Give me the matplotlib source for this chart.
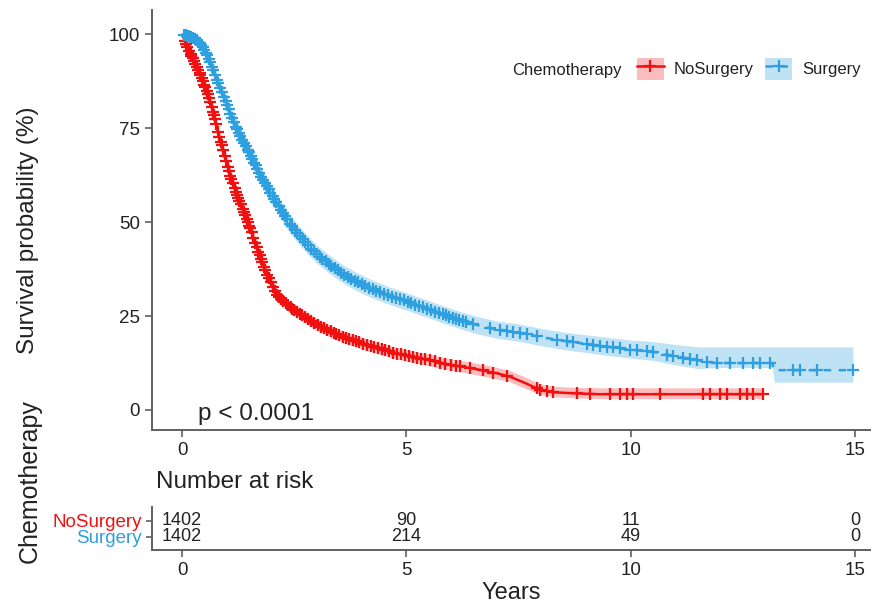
import numpy as np
import matplotlib
matplotlib.use("Agg")
import matplotlib.pyplot as plt
from matplotlib.patches import Patch
from matplotlib.lines import Line2D

plt.rcParams['font.family'] = ['Liberation Sans', 'DejaVu Sans']

# ---------------- data ----------------
groups = ["NoSurgery", "Surgery"]
legend_title = "Chemotherapy"
pval_text = "p < 0.0001"

red_t = [0, 0.05, 0.1, 0.2, 0.3, 0.4, 0.5, 0.6, 0.7, 0.8, 0.9, 1.0, 1.1, 1.2, 1.3, 1.4,
         1.5, 1.6, 1.7, 1.8, 1.9, 2.0, 2.1, 2.2, 2.4, 2.6, 2.8, 3.0, 3.3, 3.6, 4.0, 4.4,
         4.8, 5.2, 5.6, 6.0, 6.5, 7.0, 7.3, 7.6, 7.9, 8.0, 8.3, 8.8, 9.3, 12.95]
red_s = [100, 98.5, 97, 94.5, 92, 89.5, 86.5, 83, 79, 74, 69.5, 65.5, 61.5, 58, 55, 52,
         49, 45.5, 42, 39, 36, 33.5, 31, 29.5, 27.5, 25.8, 24.3, 22.8, 21, 19.4, 17.8, 16.3,
         15, 14, 13, 12, 11, 9.8, 8.9, 7.4, 5.8, 5.3, 4.7, 4.4, 4.2, 4.2]
red_hi = [100, 99.2, 98, 95.8, 93.4, 91, 88.2, 84.8, 80.8, 75.9, 71.4, 67.4, 63.4, 59.9, 56.9, 53.9,
          50.9, 47.4, 43.9, 40.8, 37.8, 35.2, 32.7, 31.1, 29.1, 27.4, 25.9, 24.4, 22.6, 21.0, 19.4, 17.9,
          16.6, 15.6, 14.6, 13.6, 12.6, 11.4, 10.5, 9.0, 7.4, 6.9, 6.3, 6.0, 5.9, 5.9]
red_lo = [100, 97.8, 96, 93.2, 90.6, 88, 84.8, 81.2, 77.2, 72.1, 67.6, 63.6, 59.6, 56.1, 53.1, 50.1,
          47.1, 43.6, 40.1, 37.2, 34.2, 31.8, 29.3, 27.9, 25.9, 24.2, 22.7, 21.2, 19.4, 17.8, 16.2, 14.8,
          13.5, 12.5, 11.5, 10.5, 9.5, 8.3, 7.5, 6.0, 4.5, 4.1, 3.5, 3.2, 3.0, 3.0]
red_censor = [0.06, 0.09, 0.12, 0.16, 0.19, 0.21, 0.24, 0.27, 0.3, 0.33, 0.36, 0.39, 0.41,
              0.44, 0.47, 0.5, 0.52, 0.55, 0.57, 0.6, 0.63, 0.66, 0.69, 0.71, 0.73, 0.76,
              0.8, 0.83, 0.86, 0.88, 0.91, 0.95, 0.98, 1.02, 1.05, 1.08, 1.1, 1.13, 1.17,
              1.2, 1.23, 1.25, 1.28, 1.31, 1.35, 1.38, 1.4, 1.44, 1.47, 1.5, 1.52, 1.55,
              1.59, 1.63, 1.66, 1.7, 1.73, 1.76, 1.79, 1.83, 1.86, 1.9, 1.94, 1.98, 2.03,
              2.07, 2.12, 2.16, 2.2, 2.25, 2.31, 2.36, 2.42, 2.46, 2.5, 2.56, 2.63, 2.68,
              2.74, 2.81, 2.88, 2.95, 3.02, 3.1, 3.17, 3.24, 3.31, 3.38, 3.44, 3.5, 3.58,
              3.66, 3.73, 3.8, 3.88, 3.95, 4.04, 4.12, 4.2, 4.27, 4.36, 4.45, 4.53, 4.62,
              4.71, 4.8, 4.88, 4.97, 5.06, 5.15, 5.24, 5.33, 5.42, 5.52, 5.63, 5.75, 5.86,
              6.0, 6.1, 6.2, 6.42, 6.7, 6.93, 7.24, 7.91, 7.98, 8.13, 8.27, 8.8, 9.09, 9.54,
              9.76, 9.91, 10.05, 10.65, 11.6, 11.77, 11.99, 12.14, 12.44, 12.59, 12.72, 12.95]

blue_t = [0, 0.1, 0.2, 0.3, 0.4, 0.5, 0.6, 0.7, 0.8, 0.9, 1.0, 1.1, 1.2, 1.3, 1.4, 1.5, 1.6,
          1.7, 1.8, 1.9, 2.0, 2.2, 2.4, 2.6, 2.8, 3.0, 3.3, 3.6, 3.9, 4.2, 4.6, 5.0, 5.4, 5.8,
          6.2, 6.6, 7.0, 7.5, 8.0, 8.5, 9.0, 9.5, 10.0, 10.5, 11.0, 11.5, 11.9, 13.15, 13.2, 14.95]
blue_s = [100, 99.6, 99.2, 98.6, 97.6, 95.8, 93.3, 90.5, 87.2, 84.2, 81.2, 78.2, 75.4, 72.8,
          70.6, 68.4, 66.0, 63.6, 61.4, 59.3, 57.2, 53.2, 49.6, 46.6, 43.9, 41.5, 38.6, 36.1,
          34.1, 32.4, 30.5, 28.9, 27.2, 25.5, 23.9, 22.5, 21.4, 20.6, 19.4, 18.4, 17.6, 16.8,
          16.0, 15.5, 14.3, 13.2, 12.5, 12.5, 10.6, 10.6]
blue_hi = [100, 100, 99.8, 99.3, 98.6, 97.1, 94.9, 92.3, 89.2, 86.3, 83.4, 80.4, 77.7, 75.1,
           72.9, 70.8, 68.4, 66.0, 63.8, 61.7, 59.6, 55.6, 52.0, 49.0, 46.3, 43.9, 41.0, 38.5,
           36.5, 34.8, 32.8, 31.2, 29.5, 27.8, 26.2, 24.8, 23.7, 22.9, 21.7, 20.7, 20.0, 19.3,
           18.6, 18.2, 17.4, 16.8, 16.8, 16.8, 16.8, 16.8]
blue_lo = [100, 99.2, 98.6, 97.9, 96.6, 94.5, 91.7, 88.7, 85.2, 82.1, 79.0, 76.0, 73.1, 70.5,
           68.3, 66.0, 63.6, 61.2, 59.0, 56.9, 54.8, 50.8, 47.2, 44.2, 41.5, 39.1, 36.2, 33.7,
           31.7, 30.0, 28.2, 26.6, 24.9, 23.2, 21.6, 20.2, 19.1, 18.3, 17.1, 16.1, 15.3, 14.5,
           13.8, 13.2, 12.0, 11.0, 11.3, 11.3, 7.4, 7.4]
blue_censor = [0.05, 0.08, 0.1, 0.13, 0.16, 0.18, 0.21, 0.25, 0.28, 0.31, 0.33, 0.36, 0.4,
               0.43, 0.46, 0.5, 0.53, 0.56, 0.6, 0.63, 0.67, 0.7, 0.74, 0.78, 0.81, 0.85,
               0.89, 0.93, 0.97, 1.0, 1.04, 1.08, 1.12, 1.16, 1.2, 1.23, 1.27, 1.3, 1.34,
               1.38, 1.42, 1.46, 1.49, 1.53, 1.57, 1.61, 1.64, 1.68, 1.72, 1.77, 1.81, 1.85,
               1.89, 1.93, 1.97, 2.02, 2.06, 2.1, 2.15, 2.2, 2.24, 2.29, 2.34, 2.4, 2.45,
               2.52, 2.57, 2.63, 2.69, 2.75, 2.81, 2.88, 2.94, 3.0, 3.07, 3.13, 3.2, 3.27,
               3.33, 3.4, 3.47, 3.55, 3.62, 3.7, 3.77, 3.85, 3.92, 4.0, 4.08, 4.17, 4.25,
               4.33, 4.41, 4.5, 4.59, 4.68, 4.76, 4.85, 4.94, 5.03, 5.11, 5.2, 5.29, 5.38,
               5.46, 5.55, 5.64, 5.73, 5.81, 5.88, 5.96, 6.03, 6.11, 6.18, 6.25, 6.32, 6.49,
               6.86, 7.09, 7.24, 7.38, 7.53, 7.69, 7.91, 8.36, 8.58, 8.71, 9.03, 9.16, 9.32,
               9.47, 9.6, 9.76, 9.98, 10.14, 10.36, 10.5, 10.81, 10.94, 11.17, 11.32, 11.48,
               11.7, 11.92, 12.21, 12.5, 12.72, 12.88, 13.1, 13.62, 13.77, 14.15, 14.95]

risk_times = [0, 5, 10, 15]
risk_nosurgery = [1402, 90, 11, 0]
risk_surgery = [1402, 214, 49, 0]

x_ticks = [0, 5, 10, 15]
y_ticks = [0, 25, 50, 75, 100]

# ---------------- style ----------------
RED = '#F01010'
BLUE = '#2E9FDF'
AX_COL = '#606060'
TXT = '#222222'
W, H = 885, 606

fig = plt.figure(figsize=(W / 100, H / 100), dpi=100)

def px_axes(l, t, r, b):
    return fig.add_axes([l / W, 1 - b / H, (r - l) / W, (b - t) / H])

XMIN, XMAX = -0.669, 15.33

ax = px_axes(152, 10, 870, 430)
ax.set_xlim(XMIN, XMAX)
ax.set_ylim(-5.32, 106.4)

# CI bands
ax.fill_between(red_t, red_lo, red_hi, color=RED, alpha=0.28, lw=0)
ax.fill_between(blue_t, blue_lo, blue_hi, color=BLUE, alpha=0.3, lw=0)

# curves
ax.plot(red_t, red_s, color=RED, lw=1.8, solid_capstyle='butt')
ax.plot(blue_t, blue_s, color=BLUE, lw=1.8, dashes=(3, 3))

# censor marks
ax.plot(red_censor, np.interp(red_censor, red_t, red_s), ls='none', marker='+',
        ms=8, mew=1.6, color=RED)
ax.plot(blue_censor, np.interp(blue_censor, blue_t, blue_s), ls='none', marker='+',
        ms=8, mew=1.6, color=BLUE)

ax.text(0.36, -2.7, pval_text, fontsize=17.5, color=TXT, ha='left', va='baseline')

for sp in ['top', 'right']:
    ax.spines[sp].set_visible(False)
for sp in ['left', 'bottom']:
    ax.spines[sp].set_color(AX_COL)
    ax.spines[sp].set_linewidth(1.4)
ax.set_xticks(x_ticks)
ax.set_yticks(y_ticks)
ax.tick_params(colors=AX_COL, labelcolor=TXT, labelsize=13.5, length=5, width=1.2)
ax.set_ylabel("Survival probability (%)", fontsize=17.5, color=TXT)
ax.yaxis.set_label_coords((39 - 152) / 718, (430 - 230) / 420)

# legend
fig.text(512 / W, 1 - 70 / H, legend_title, fontsize=12, color=TXT, ha='left', va='center')
h_red = (Patch(facecolor=RED, alpha=0.28, lw=0),
         Line2D([], [], color=RED, lw=1.8, marker='+', ms=8, mew=1.6))
h_blue = (Patch(facecolor=BLUE, alpha=0.3, lw=0),
          Line2D([], [], color=BLUE, lw=1.8, dashes=(3, 3), marker='+', ms=8, mew=1.6))
fig.legend([h_red, h_blue], groups, loc='center left',
           bbox_to_anchor=(637 / W, 1 - 69 / H), ncol=2, frameon=False,
           fontsize=12, handlelength=1.6, handleheight=1.7, handletextpad=0.6,
           columnspacing=0.7, borderpad=0, borderaxespad=0, labelcolor=TXT)

# risk table
rax = px_axes(152, 507, 870, 550)
rax.set_xlim(XMIN, XMAX)
rax.set_ylim(-0.8, 1.84)
for x, n in zip(risk_times, risk_nosurgery):
    rax.text(x, 1, str(n), fontsize=13, color=TXT, ha='center', va='center')
for x, n in zip(risk_times, risk_surgery):
    rax.text(x, 0, str(n), fontsize=13, color=TXT, ha='center', va='center')
for sp in ['top', 'right']:
    rax.spines[sp].set_visible(False)
for sp in ['left', 'bottom']:
    rax.spines[sp].set_color(AX_COL)
    rax.spines[sp].set_linewidth(1.4)
rax.set_xticks(x_ticks)
rax.set_yticks([1, 0])
rax.set_yticklabels(groups)
rax.tick_params(axis='y', labelsize=13.5, length=4, width=1.2, colors=AX_COL)
for lab, c in zip(rax.get_yticklabels(), [RED, BLUE]):
    lab.set_color(c)
rax.tick_params(axis='x', labelsize=13.5, length=5, width=1.2, colors=AX_COL, labelcolor=TXT)
rax.set_xlabel("Years", fontsize=17, color=TXT, labelpad=2)
rax.set_title("Number at risk", fontsize=17.5, color=TXT, loc='left', pad=14, x=0.005)

fig.text(30 / W, 1 - 481 / H, legend_title, fontsize=18, color=TXT, rotation=90,
         ha='center', va='center')

fig.savefig("out.png", dpi=100)
